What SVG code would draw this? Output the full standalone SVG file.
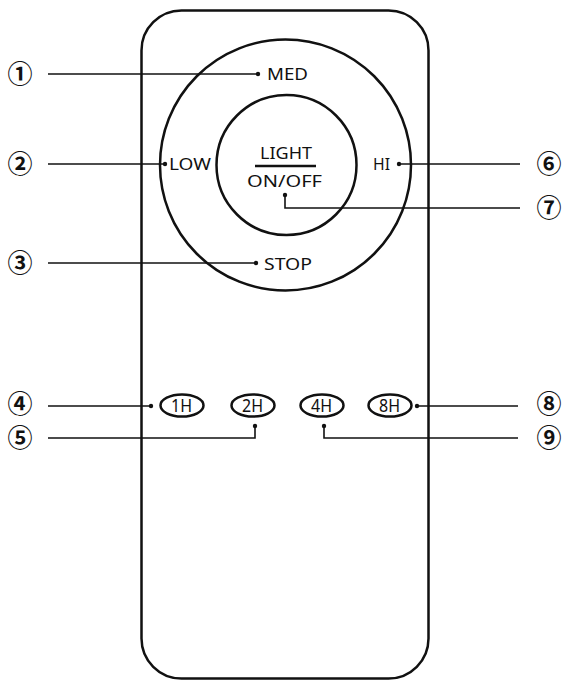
<svg xmlns="http://www.w3.org/2000/svg" width="576" height="690" viewBox="0 0 576 690">
<style>
.b{fill:none;stroke:#111;stroke-width:2.5}
.l{fill:none;stroke:#111;stroke-width:1.6}
.d{fill:#111}
.t{font-family:"Noto Sans","DejaVu Sans",sans-serif;font-size:17px;fill:#111}
.n{font-family:"Noto Sans CJK JP","DejaVu Sans",sans-serif;font-size:25px;font-weight:bold;fill:#111;text-anchor:middle}
.k{font-family:"Noto Sans","DejaVu Sans",sans-serif;font-size:18px;fill:#111}
</style>
<rect width="576" height="690" fill="#fff"/>
<g id="remote"><rect class="b" x="141.5" y="10.5" width="287" height="668" rx="40"/></g>
<g id="ring"><circle class="b" cx="285.5" cy="165" r="125.5"/></g>
<g id="light"><circle class="b" cx="286.5" cy="165" r="70"/>
<text class="t" x="260" y="159" textLength="52" lengthAdjust="spacingAndGlyphs">LIGHT</text>
<line x1="255" y1="166" x2="316" y2="166" stroke="#111" stroke-width="2.5"/>
<text class="t" x="247" y="187" textLength="75" lengthAdjust="spacingAndGlyphs">ON/OFF</text></g>
<g id="med"><text class="t" x="267" y="80" textLength="41" lengthAdjust="spacingAndGlyphs">MED</text></g>
<g id="low"><text class="t" x="169" y="170" textLength="42" lengthAdjust="spacingAndGlyphs">LOW</text></g>
<g id="hi"><text class="t" x="373" y="170" textLength="17" lengthAdjust="spacingAndGlyphs">HI</text></g>
<g id="stop"><text class="t" x="264" y="270" textLength="48" lengthAdjust="spacingAndGlyphs">STOP</text></g>
<g id="b1h"><ellipse class="b" cx="182" cy="405.5" rx="21.5" ry="11"/><text class="k" x="171" y="412" textLength="21" lengthAdjust="spacingAndGlyphs">1H</text></g>
<g id="b2h"><ellipse class="b" cx="253" cy="405.5" rx="21.5" ry="11"/><text class="k" x="242" y="412" textLength="21" lengthAdjust="spacingAndGlyphs">2H</text></g>
<g id="b4h"><ellipse class="b" cx="322" cy="405.5" rx="21.5" ry="11"/><text class="k" x="311" y="412" textLength="21" lengthAdjust="spacingAndGlyphs">4H</text></g>
<g id="b8h"><ellipse class="b" cx="390" cy="405.5" rx="21.5" ry="11"/><text class="k" x="379" y="412" textLength="21" lengthAdjust="spacingAndGlyphs">8H</text></g>
<g id="labels">
<text class="n" x="20" y="83">①</text>
<text class="n" x="20" y="173">②</text>
<text class="n" x="20" y="272">③</text>
<text class="n" x="20" y="413">④</text>
<text class="n" x="20" y="447">⑤</text>
<text class="n" x="549" y="173">⑥</text>
<text class="n" x="549" y="217">⑦</text>
<text class="n" x="549" y="413">⑧</text>
<text class="n" x="549" y="447">⑨</text>
</g>
<g id="connectors">
<line class="l" x1="48" y1="74" x2="258" y2="74"/><circle class="d" cx="258" cy="74" r="2.2"/>
<line class="l" x1="48" y1="164" x2="165" y2="164"/><circle class="d" cx="165" cy="164" r="2.2"/>
<line class="l" x1="48" y1="263" x2="256" y2="263"/><circle class="d" cx="256" cy="263" r="2.2"/>
<line class="l" x1="399" y1="164" x2="520" y2="164"/><circle class="d" cx="399" cy="164" r="2.2"/>
<polyline class="l" points="285,195 285,208 520,208"/><circle class="d" cx="285" cy="195" r="2.2"/>
<line class="l" x1="48" y1="406" x2="151" y2="406"/><circle class="d" cx="151" cy="406" r="2.2"/>
<line class="l" x1="417" y1="406" x2="518" y2="406"/><circle class="d" cx="417" cy="406" r="2.2"/>
<polyline class="l" points="255,426 255,438 48,438"/><circle class="d" cx="255" cy="426" r="2.2"/>
<polyline class="l" points="324,426 324,438 518,438"/><circle class="d" cx="324" cy="426" r="2.2"/>
</g>
</svg>
